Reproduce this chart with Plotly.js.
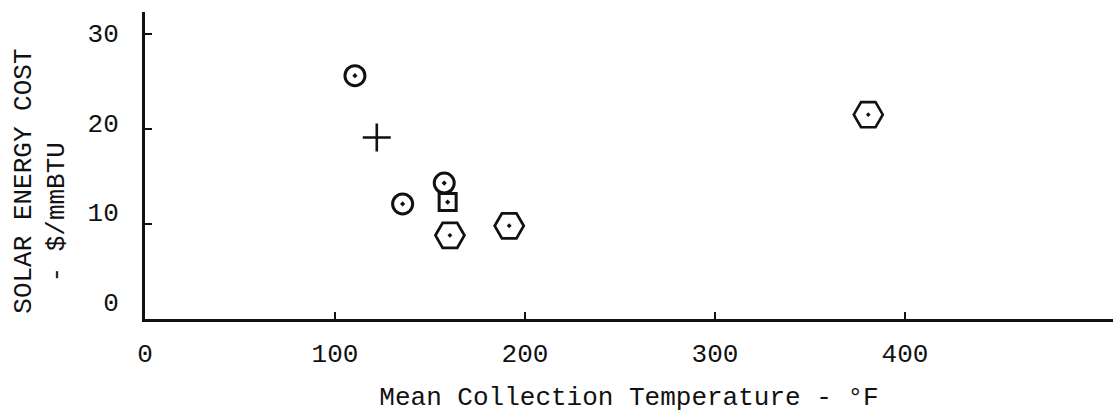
<!DOCTYPE html>
<html>
<head>
<meta charset="utf-8">
<script src="https://cdn.plot.ly/plotly-3.0.1.min.js"></script>
<style>
  html, body { margin: 0; padding: 0; background: #ffffff; }
  #chart { width: 1113px; height: 415px; }
</style>
</head>
<body>
<div id="chart"></div>
<script>
// Mean collection temperature (°F) and solar energy cost ($/mmBTU)
const circleTemps   = [110.5, 135.6, 157.5];
const circleCosts   = [25.6, 12.1, 14.3];
const plusTemps     = [122];
const plusCosts     = [19.1];
const squareTemps   = [159.3];
const squareCosts   = [12.3];
const hexagonTemps  = [160.5, 191.7];
const hexagonCosts  = [8.8, 9.8];
const brokenHexTemps = [380.7];
const brokenHexCosts = [21.5];

const xTickVals = [0, 100, 200, 300, 400];
const xTickText = ['0', '100', '200', '300', '400'];
const yTickVals = [0, 10, 20, 30];
const yTickText = ['0', '10', '20', '30'];

const xTitle = 'Mean Collection Temperature - °F';
const yTitleLine1 = 'SOLAR ENERGY COST';
const yTitleLine2 = '- $/mmBTU';

const ink = '#111111';
const FONT = '"Liberation Mono", "Courier New", monospace';
const nb = '\u00a0';
const zw = '\u200b';

const traces = [
  // empty carrier so the tick-label axis is drawn
  { x: [], y: [], mode: 'markers', type: 'scatter', yaxis: 'y', hoverinfo: 'skip' },
  { x: circleTemps, y: circleCosts, mode: 'markers', type: 'scatter', yaxis: 'y2',
    marker: { symbol: 'circle-open-dot', size: 20, color: ink, line: { width: 3, color: ink } } },
  { x: plusTemps, y: plusCosts, mode: 'markers', type: 'scatter', yaxis: 'y2',
    marker: { symbol: 'cross-thin-open', size: 20, color: ink, line: { width: 2.6, color: ink } } },
  { x: squareTemps, y: squareCosts, mode: 'markers', type: 'scatter', yaxis: 'y2',
    marker: { symbol: 'square-open-dot', size: 17, color: ink, line: { width: 3, color: ink } } },
  { x: hexagonTemps, y: hexagonCosts, mode: 'markers', type: 'scatter', yaxis: 'y2',
    marker: { symbol: 'hexagon2-open-dot', size: 29, color: ink, line: { width: 2.8, color: ink } } },
  { x: brokenHexTemps, y: brokenHexCosts, mode: 'markers', type: 'scatter', yaxis: 'y2',
    marker: { symbol: 'hexagon2-open-dot', size: 29, color: ink, line: { width: 2.6, color: '#2a2a2a' } } }
];

const layout = {
  width: 1113, height: 415,
  margin: { l: 145, r: 0, t: 12, b: 96 },
  paper_bgcolor: '#ffffff', plot_bgcolor: '#ffffff',
  showlegend: false,
  font: { family: FONT, color: ink },
  xaxis: {
    range: [0, 509.5],
    showline: true, linewidth: 2.6, linecolor: ink,
    ticks: 'inside', ticklen: 7, tickwidth: 2, tickcolor: ink,
    tickvals: xTickVals, ticktext: xTickText,
    showgrid: false, zeroline: false,
    tickfont: { family: FONT, size: 26, color: ink },
    ticklabelstandoff: 9,
    title: { text: xTitle, font: { family: FONT, size: 26, color: ink }, standoff: 18 }
  },
  // tick-label axis (labels sit slightly off the drawn ticks in the original)
  yaxis: {
    range: [-1.90, 32.34],
    showline: false, showgrid: false, zeroline: false,
    ticks: 'outside', ticklen: 20, tickcolor: 'rgba(0,0,0,0)',
    tickvals: yTickVals, ticktext: yTickText, showticklabels: true,
    tickfont: { family: FONT, size: 26, color: ink }
  },
  // data axis with the drawn line and inside ticks
  yaxis2: {
    overlaying: 'y', anchor: 'x', side: 'left',
    range: [0, 32.3],
    showline: true, linewidth: 3, linecolor: ink,
    ticks: 'inside', ticklen: 7, tickwidth: 2, tickcolor: ink,
    tickvals: yTickVals, showticklabels: false,
    showgrid: false, zeroline: false,
    title: {
      text: yTitleLine1 + nb + nb + '<br>' + yTitleLine2 + nb.repeat(6) + zw,
      font: { family: FONT, size: 26, color: ink },
      standoff: 70
    }
  }
};

Plotly.newPlot('chart', traces, layout, { displayModeBar: false, staticPlot: true });
</script>
</body>
</html>
